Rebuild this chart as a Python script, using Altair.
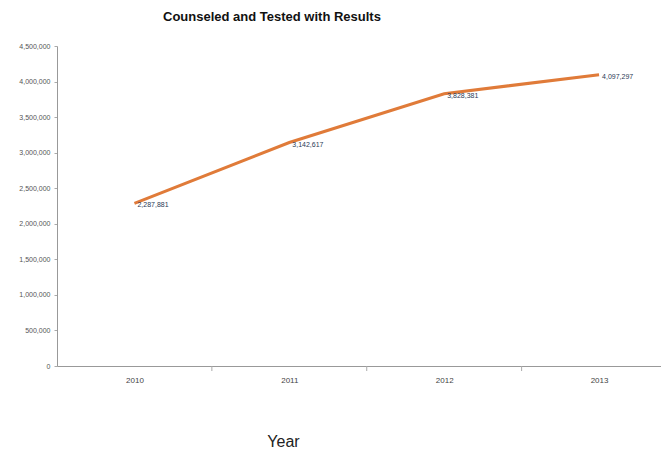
import altair as alt
import pandas as pd

years = [2010, 2011, 2012, 2013]
values = [2287881, 3142617, 3828381, 4097297]
labels = ["2,287,881", "3,142,617", "3,828,381", "4,097,297"]
boundaries = [2010.5, 2011.5, 2012.5]
y_ticks = [0, 500000, 1000000, 1500000, 2000000, 2500000, 3000000,
           3500000, 4000000, 4500000]

df = pd.DataFrame({"year": years, "value": values, "label": labels})
bdf = pd.DataFrame({"year": boundaries})

x_scale = alt.Scale(domain=[2009.5, 2013.4], nice=False, zero=False)
y_scale = alt.Scale(domain=[0, 4500000], nice=False)

x_axis = alt.Axis(values=years, format="d", ticks=False, grid=False,
                  labelFontSize=8, labelColor="#444", labelPadding=10,
                  labelFont="Liberation Sans",
                  domainColor="#999", title="Year", titleFontSize=16,
                  titleFontWeight="normal", titleFont="Liberation Sans",
                  titleColor="#222", titleX=226, titleY=67,
                  titleAlign="center", titleBaseline="top")
y_axis = alt.Axis(values=y_ticks, format=",d", labelOverlap=False,
                  grid=False, ticks=True, tickSize=3,
                  tickColor="#aaa", domainColor="#999",
                  labelFontSize=7, labelColor="#555", labelPadding=4,
                  labelFont="Liberation Sans", title=None)

x_enc = alt.X("year:Q", scale=x_scale, axis=x_axis)
y_enc = alt.Y("value:Q", scale=y_scale, axis=y_axis)

line = alt.Chart(df).mark_line(color="#E07B39", strokeWidth=3).encode(x=x_enc, y=y_enc)

text = alt.Chart(df).mark_text(align="left", dx=3, dy=2, fontSize=7,
                               color="#2b3a55", font="Liberation Sans").encode(
    x=x_enc, y=y_enc, text="label:N")

ticks = alt.Chart(bdf).mark_rule(color="#aaa").encode(
    x=x_enc, y=alt.value(320), y2=alt.value(325))

chart = alt.layer(line, ticks, text).properties(
    width=604, height=320,
    view=alt.ViewBackground(stroke="transparent", strokeWidth=0),
    title=alt.TitleParams("Counseled and Tested with Results", anchor="start",
                          frame="group", dx=106, offset=18, fontSize=13,
                          fontWeight="bold", font="Liberation Sans",
                          color="#111"),
    autosize=alt.AutoSizeParams(type="none"),
    padding={"left": 49, "top": 38, "right": 0, "bottom": 90},
).configure_view(strokeWidth=0, stroke="transparent").configure(background="white")

chart.save("out.html", embed_options={"renderer": "svg", "actions": False})
